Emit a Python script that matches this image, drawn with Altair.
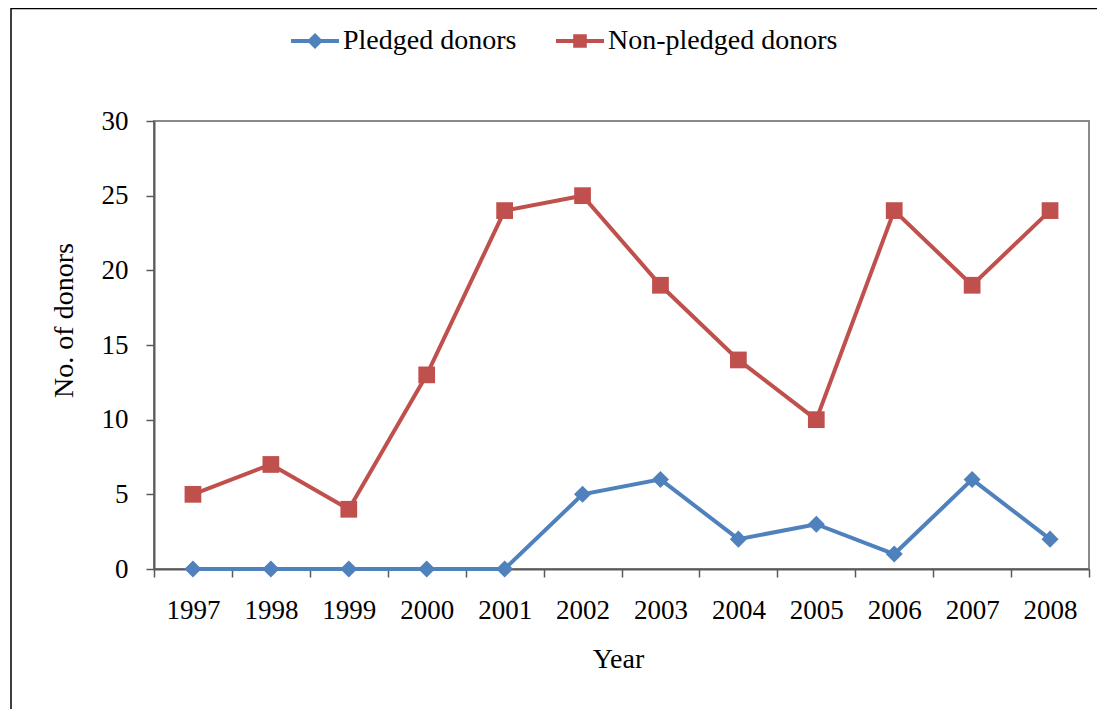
import altair as alt
import pandas as pd

years = ["1997", "1998", "1999", "2000", "2001", "2002", "2003", "2004", "2005", "2006", "2007", "2008"]
pledged = [0, 0, 0, 0, 0, 5, 6, 2, 3, 1, 6, 2]
non_pledged = [5, 7, 4, 13, 24, 25, 19, 14, 10, 24, 19, 24]
series_names = ["Pledged donors", "Non-pledged donors"]
series_colors = ["#4F81BD", "#C0504D"]
y_ticks = [0, 5, 10, 15, 20, 25, 30]

rows = []
for yr, p, n in zip(years, pledged, non_pledged):
    rows.append({"Year": yr, "Series": series_names[0], "Value": p})
    rows.append({"Year": yr, "Series": series_names[1], "Value": n})
df = pd.DataFrame(rows)

FONT = "Liberation Serif"
AXC = "#5a5a5a"

color_scale = alt.Scale(domain=series_names, range=series_colors)

x_enc = alt.X(
    "Year:O",
    sort=years,
    bandPosition=0.5,
    scale=alt.Scale(type="band", paddingInner=0, paddingOuter=0),
    axis=alt.Axis(
        title="Year", labelAngle=0, tickBand="extent", tickSize=8, labelPadding=20,
        labelFont=FONT, labelFontSize=27, labelColor="black",
        titleFont=FONT, titleFontSize=28, titleFontWeight="normal", titleColor="black",
        titleX=464, titleY=76, titleBaseline="top",
        domainColor=AXC, tickColor=AXC, domainWidth=2, tickWidth=1.5,
    ),
)
y_enc = alt.Y(
    "Value:Q",
    scale=alt.Scale(domain=[0, 30], nice=False),
    axis=alt.Axis(
        title="No. of donors", values=y_ticks, grid=False, tickSize=8, labelPadding=18,
        labelFont=FONT, labelFontSize=27, labelColor="black",
        titleFont=FONT, titleFontSize=28, titleFontWeight="normal", titleColor="black",
        titleX=-82, titleY=199, titleBaseline="alphabetic", titleAngle=270,
        domainColor=AXC, tickColor=AXC, domainWidth=2, tickWidth=1.5,
    ),
)

base = alt.Chart(df)


def series_layers(name, color, shape, size):
    sub = base.transform_filter(alt.datum.Series == name)
    ln = sub.mark_line(strokeWidth=4, color=color).encode(x=x_enc, y=y_enc)
    pt = sub.mark_point(filled=True, opacity=1, shape=shape, size=size, color=color).encode(x=x_enc, y=y_enc)
    return ln, pt


ln_p, pt_p = series_layers(series_names[0], series_colors[0], "diamond", 290)
ln_n, pt_n = series_layers(series_names[1], series_colors[1], "square", 280)

diamond_path = "M-3,-0.25L3,-0.25L3,0.25L-3,0.25Z M-1,0L0,-1L1,0L0,1Z"
square_path = "M-3,-0.25L3,-0.25L3,0.25L-3,0.25Z M-0.85,-0.85L0.85,-0.85L0.85,0.85L-0.85,0.85Z"

legend_def = alt.Legend(
    title=None, orient="none", direction="horizontal", legendX=147, legendY=-94,
    labelFont=FONT, labelFontSize=28, labelColor="black", labelOffset=14, labelLimit=400,
    symbolSize=256, symbolStrokeWidth=0, symbolOpacity=1, columnPadding=39, padding=0,
)

legend_layer = base.mark_point(filled=True, opacity=1).encode(
    x=x_enc, y=y_enc,
    color=alt.Color("Series:N", scale=color_scale, legend=legend_def),
    shape=alt.Shape("Series:N", scale=alt.Scale(domain=series_names, range=[diamond_path, square_path]), legend=legend_def),
).transform_filter("false")

frame = alt.Chart(alt.Data(values=[{"a": 1}])).mark_rect(
    fillOpacity=0, stroke="black", strokeWidth=1.5
).encode(
    x=alt.value(-143), x2=alt.value(1100), y=alt.value(-112.5), y2=alt.value(700)
)

chart = alt.layer(frame, ln_p, ln_n, pt_p, pt_n, legend_layer).properties(
    width=935, height=448,
    autosize=alt.AutoSizeParams(type="none"),
    padding={"left": 146, "top": 113, "right": 8, "bottom": 140},
).configure(
    background="white", font=FONT
).configure_view(
    stroke="#8a8a8a", strokeWidth=2
).configure_legend(
    labelFont=FONT, labelFontSize=28, labelColor="black", labelLimit=400
)

chart.save("out.html", embed_options={"renderer": "svg", "actions": False})
